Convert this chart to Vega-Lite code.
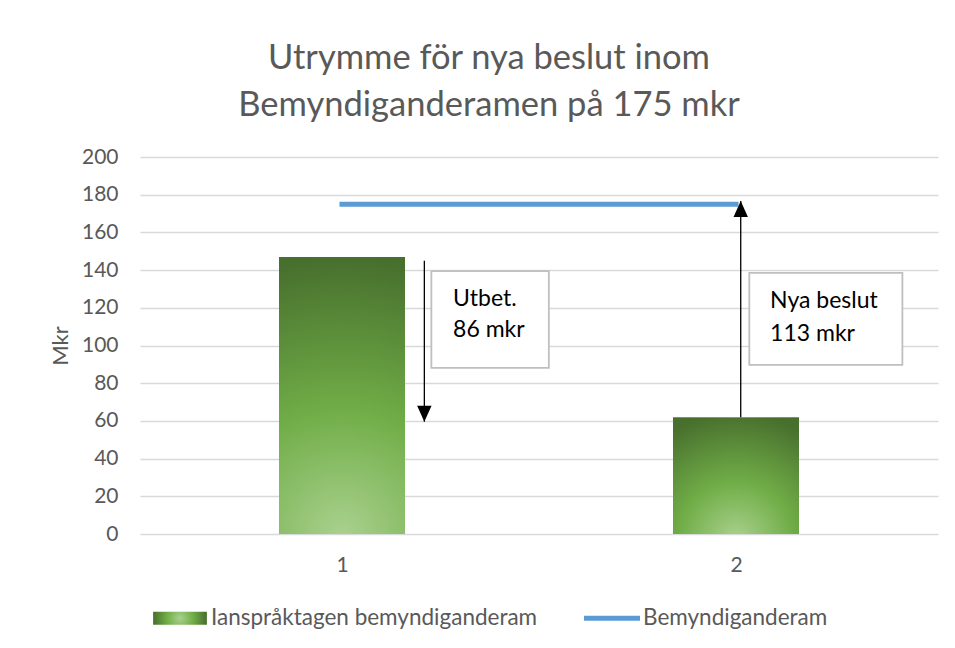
{
  "$schema": "https://vega.github.io/schema/vega-lite/v6.json",
  "width": 798,
  "height": 377,
  "autosize": "none",
  "padding": {"left": 140, "top": 157, "right": 17, "bottom": 114},
  "background": "white",
  "config": {
    "font": "Lato",
    "view": {"stroke": null},
    "axis": {"labelFont": "Lato", "titleFont": "Lato"},
    "axisY": {
      "tickCount": 12,
      "labelOverlap": false,
      "titleFontSize": 22,
      "titleFontWeight": "normal",
      "titleColor": "#595959",
      "titlePadding": 9,
      "labelFontSize": 21,
      "labelColor": "#595959",
      "labelPadding": 22,
      "ticks": false,
      "domain": false,
      "gridColor": "#d9d9d9",
      "gridWidth": 1.3
    }
  },
  "title": {
    "text": ["Utrymme för nya beslut inom", "Bemyndiganderamen på 175 mkr"],
    "font": "Lato",
    "fontSize": 34.5,
    "fontWeight": "normal",
    "color": "#595959",
    "anchor": "middle",
    "frame": "group",
    "dx": -50,
    "lineHeight": 47,
    "offset": 23
  },
  "datasets": {
    "bars": [
      {"kategori": 1, "mkr": 147},
      {"kategori": 2, "mkr": 62}
    ],
    "ram": [
      {"kategori": 1, "mkr": 175, "serie": "Bemyndiganderam"},
      {"kategori": 2, "mkr": 175, "serie": "Bemyndiganderam"}
    ],
    "pilar": [
      {"x": 1.209, "fran": 145, "till": 59.6, "riktning": "ned"},
      {"x": 2.012, "fran": 62, "till": 176.6, "riktning": "upp"}
    ],
    "rutor": [
      {"x": 1.2268, "x2": 1.525, "y": 139.5, "y2": 88.1},
      {"x": 2.0338, "x2": 2.4223, "y": 138.5, "y2": 89.7}
    ],
    "texter": [
      {"x": 1.282, "y": 124.7, "text": "Utbet."},
      {"x": 1.282, "y": 108.2, "text": "86 mkr"},
      {"x": 2.0865, "y": 123.6, "text": "Nya beslut"},
      {"x": 2.0865, "y": 106.1, "text": "113 mkr"}
    ]
  },
  "layer": [
    {
      "data": {"name": "bars"},
      "mark": {
        "type": "bar",
        "width": 126,
        "color": {
          "gradient": "radial",
          "x1": 0.5, "y1": 1, "r1": 0,
          "x2": 0.5, "y2": 1, "r2": 1,
          "stops": [
            {"offset": 0, "color": "#a9d18e"},
            {"offset": 0.45, "color": "#70ad47"},
            {"offset": 1, "color": "#476f2d"}
          ]
        }
      },
      "encoding": {
        "x": {
          "field": "kategori",
          "type": "quantitative",
          "title": null,
          "scale": {"domain": [0.5, 2.5], "nice": false, "zero": false},
          "axis": {
            "values": [1, 2],
            "format": "d",
            "title": null,
            "grid": false,
            "ticks": false,
            "domain": false,
            "labelFontSize": 21,
            "labelColor": "#595959",
            "labelPadding": 20
          }
        },
        "y": {
          "field": "mkr",
          "type": "quantitative",
          "title": "Mkr",
          "scale": {"domain": [0, 200], "nice": false},
          "axis": {
            "values": [0, 20, 40, 60, 80, 100, 120, 140, 160, 180, 200],
            "tickCount": 12,
            "labelOverlap": false,
            "title": "Mkr"
          }
        }
      }
    },
    {
      "data": {"name": "ram"},
      "mark": {"type": "line", "strokeWidth": 5, "strokeCap": "square"},
      "encoding": {
        "x": {"field": "kategori", "type": "quantitative", "title": null},
        "y": {
          "field": "mkr",
          "type": "quantitative",
          "title": "Mkr",
          "axis": {
            "values": [0, 20, 40, 60, 80, 100, 120, 140, 160, 180, 200],
            "tickCount": 12,
            "labelOverlap": false,
            "title": "Mkr"
          }
        },
        "color": {
          "field": "serie",
          "type": "nominal",
          "scale": {
            "domain": ["Ianspråktagen bemyndiganderam", "Bemyndiganderam"],
            "range": ["#70ad47", "#5b9bd5"]
          },
          "legend": {
            "orient": "none",
            "legendX": 12,
            "legendY": 433,
            "direction": "horizontal",
            "title": null,
            "labelFont": "Lato",
            "labelFontSize": 22.5,
            "labelColor": "#595959",
            "labelOffset": 3,
            "labelLimit": 500,
            "columnPadding": 46,
            "symbolSize": 3136,
            "symbolStrokeWidth": 0,
            "encode": {
              "symbols": {
                "update": {
                  "shape": {"signal": "datum.value === 'Bemyndiganderam' ? 'M-1,-0.09L1,-0.09L1,0.09L-1,0.09Z' : 'M-0.96,-0.23L0.96,-0.23L0.96,0.23L-0.96,0.23Z'"},
                  "fill": {"signal": "datum.value === 'Bemyndiganderam' ? '#5b9bd5' : {gradient: 'radial', x1: 0.5, y1: 0.5, r1: 0, x2: 0.5, y2: 0.5, r2: 0.5, stops: [{offset: 0, color: '#a9d18e'}, {offset: 0.5, color: '#70ad47'}, {offset: 1, color: '#476f2d'}]}"},
                  "fillOpacity": {"value": 1},
                  "stroke": {"value": "transparent"},
                  "strokeWidth": {"value": 0}
                }
              }
            }
          }
        }
      }
    },
    {
      "data": {"name": "pilar"},
      "mark": {"type": "rule", "color": "black", "strokeWidth": 1.3},
      "encoding": {
        "x": {"field": "x", "type": "quantitative", "title": null},
        "y": {"field": "fran", "type": "quantitative", "title": "Mkr"},
        "y2": {"field": "till"}
      }
    },
    {
      "data": {"name": "pilar"},
      "mark": {"type": "point", "filled": true, "color": "black", "opacity": 1, "size": 1024, "strokeWidth": 0},
      "encoding": {
        "x": {"field": "x", "type": "quantitative", "title": null},
        "y": {"field": "till", "type": "quantitative", "title": "Mkr"},
        "shape": {
          "field": "riktning",
          "type": "nominal",
          "scale": {"domain": ["ned", "upp"], "range": ["M-0.45,-1L0.45,-1L0,0Z", "M-0.45,1L0.45,1L0,0Z"]},
          "legend": null
        }
      }
    },
    {
      "data": {"name": "rutor"},
      "mark": {"type": "rect", "fill": "white", "stroke": "#bfbfbf", "strokeWidth": 1.8},
      "encoding": {
        "x": {"field": "x", "type": "quantitative", "title": null},
        "x2": {"field": "x2"},
        "y": {"field": "y", "type": "quantitative", "title": "Mkr"},
        "y2": {"field": "y2"}
      }
    },
    {
      "data": {"name": "texter"},
      "mark": {"type": "text", "align": "left", "baseline": "middle", "font": "Lato", "fontSize": 23, "color": "black"},
      "encoding": {
        "x": {"field": "x", "type": "quantitative", "title": null},
        "y": {"field": "y", "type": "quantitative", "title": "Mkr"},
        "text": {"field": "text"}
      }
    }
  ]
}
